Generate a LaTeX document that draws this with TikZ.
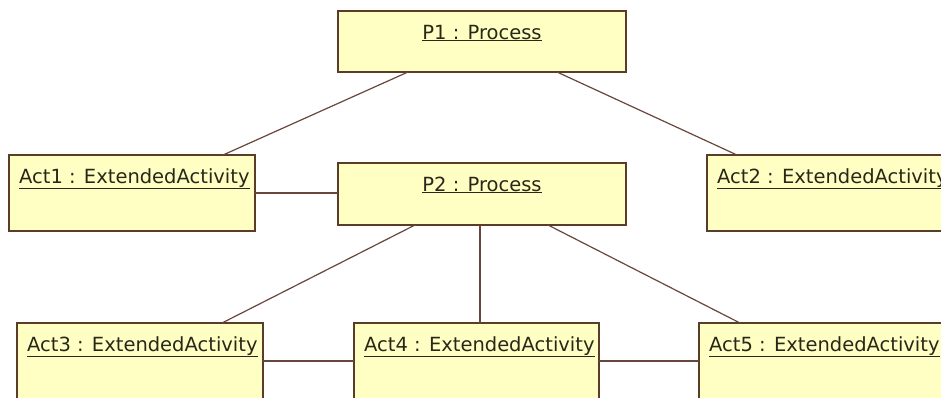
\documentclass[tikz,border=0pt]{standalone}
\usepackage{fontspec}
\setmainfont{DejaVu Sans}
\usetikzlibrary{calc}
\definecolor{boxfill}{RGB}{255,255,196}
\definecolor{boxline}{RGB}{90,60,40}
\definecolor{wire}{RGB}{105,70,60}
\definecolor{ink}{RGB}{40,40,25}
\begin{document}
\begin{tikzpicture}[x=1pt,y=-1pt,
  obj/.style={draw=boxline, fill=boxfill, line width=1.3pt, rectangle,
    anchor=north west, inner sep=0pt, outer sep=0pt},
  objtxt/.style={text=ink, inner sep=0pt,
    font=\fontsize{19.5}{23}\selectfont},
  leftname/.style={label={[objtxt, anchor=base west, xshift=10pt, yshift=-28pt]north west:\underline{#1}}},
  midname/.style={label={[objtxt, anchor=base, yshift=-28pt]north:\underline{#1}}},
  link/.style={draw=wire, line width=1.2pt}]
\useasboundingbox (0,0) rectangle (941,397);
\fill[white] (0,0) rectangle (941,397);
\clip (0,0) rectangle (941,397);

% object boxes
\node[obj, minimum width=288pt, minimum height=61pt, midname={P1 : Process}] (P1) at (338,11) {};
\node[obj, minimum width=288pt, minimum height=62pt, midname={P2 : Process}] (P2) at (338,163) {};
\node[obj, minimum width=246pt, minimum height=76pt, leftname={Act1 : ExtendedActivity}] (A1) at (9,155) {};
\node[obj, minimum width=246pt, minimum height=76pt, leftname={Act2 : ExtendedActivity}] (A2) at (707,155) {};
\node[obj, minimum width=246pt, minimum height=90pt, leftname={Act3 : ExtendedActivity}] (A3) at (17,323) {};
\node[obj, minimum width=245pt, minimum height=90pt, leftname={Act4 : ExtendedActivity}] (A4) at (354,323) {};
\node[obj, minimum width=246pt, minimum height=90pt, leftname={Act5 : ExtendedActivity}] (A5) at (699,323) {};

% links between objects
\draw[link] ($(P1.south west)+(70,0)$) -- ($(A1.north west)+(214,0)$);
\draw[link] ($(P1.south west)+(219,0)$) -- ($(A2.north west)+(30,0)$);
\draw[link] (A1.east) -- (A1.east -| P2.west);
\draw[link] ($(P2.south west)+(77,0)$) -- ($(A3.north west)+(205,0)$);
\draw[link] ($(P2.south west)+(142,0)$) -- ($(A4.north west)+(126,0)$);
\draw[link] ($(P2.south west)+(210,0)$) -- ($(A5.north west)+(41,0)$);
\draw[link] ($(A3.north east)+(0,38)$) -- ($(A4.north west)+(0,38)$);
\draw[link] ($(A4.north east)+(0,38)$) -- ($(A5.north west)+(0,38)$);
\end{tikzpicture}
\end{document}
